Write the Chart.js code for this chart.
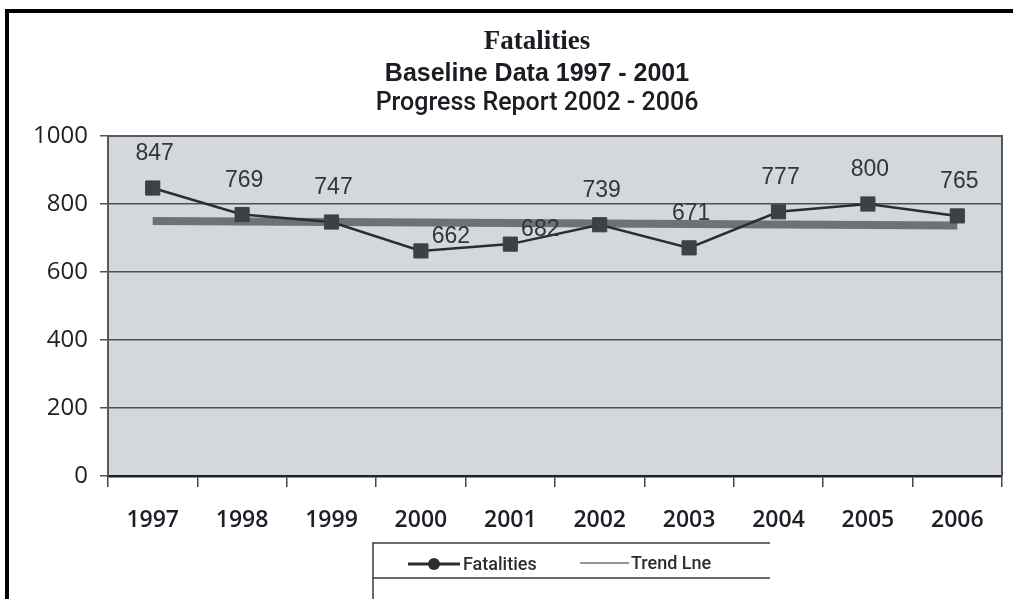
<!DOCTYPE html>
<html>
<head>
<meta charset="utf-8">
<title>Fatalities</title>
<script src="https://cdn.jsdelivr.net/npm/chart.js@4/dist/chart.umd.min.js"></script>
<style>
html,body{margin:0;padding:0;background:#fff;}
#wrap{width:1013px;height:599px;position:relative;}
</style>
</head>
<body>
<div id="wrap"><canvas id="fatalChart" width="1013" height="599"></canvas></div>
<script>

// ======================= data =======================
const years = ["1997","1998","1999","2000","2001","2002","2003","2004","2005","2006"];
const fatalities = [847,769,747,662,682,739,671,777,800,765];
// trend line only has its two end points, the rest is spanned
const trendLine = [750,null,null,null,null,null,null,null,null,737];
const yTicks = [0,200,400,600,800,1000];

const titleLines = ["Fatalities","Baseline Data 1997 - 2001","Progress Report 2002 - 2006"];
const legendNames = ["Fatalities","Trend Lne"];

// labels that sit to the right of their point instead of above it
const labelsRight = [3,4];


// ======================= plugins =======================
const frame = {
id:"frame",
beforeDraw(chart){
const ctx = chart.ctx;
const a = chart.chartArea;
ctx.save();
// plot background
ctx.fillStyle = "#d4d8dc";
ctx.fillRect(a.left,a.top,a.right-a.left,a.bottom-a.top);
// outer frame (top + left)
ctx.fillStyle = "#000";
ctx.fillRect(5,9,1008,4);
ctx.fillRect(5,9,4,590);
ctx.restore();
},
afterDatasetsDraw(chart){
const ctx = chart.ctx;
const a = chart.chartArea;
ctx.save();
ctx.strokeStyle = "#555a5e";
ctx.lineWidth = 2;
ctx.beginPath();
ctx.moveTo(a.left,a.bottom);
ctx.lineTo(a.left,a.top);
ctx.lineTo(a.right,a.top);
ctx.lineTo(a.right,a.bottom);
ctx.stroke();

// point labels
const meta = chart.getDatasetMeta(0);
ctx.font = "23px 'Liberation Sans', Arial, sans-serif";
ctx.fillStyle = "#30363b";
ctx.textAlign = "center";
ctx.textBaseline = "middle";
meta.data.forEach(function(pt,i){
if(labelsRight.includes(i)){
ctx.fillText(fatalities[i],pt.x+30,pt.y-14);
}else{
ctx.fillText(fatalities[i],pt.x+2,pt.y-34);
}
});
ctx.restore();
},
afterDraw(chart){
const ctx = chart.ctx;
ctx.save();
// titles
ctx.fillStyle = "#1c1c22";
ctx.textAlign = "center";
ctx.textBaseline = "middle";
ctx.font = "bold 27px 'Liberation Serif', 'Times New Roman', serif";
ctx.fillText(titleLines[0],537,42);
ctx.font = "bold 25px 'Liberation Sans Narrow', 'Liberation Sans', Arial, sans-serif";
ctx.fillText(titleLines[1],537,74);
ctx.font = "500 25px Roboto, 'Liberation Sans', Arial, sans-serif";
ctx.fillText(titleLines[2],537,104);

// legend box
ctx.strokeStyle = "#3a3a3a";
ctx.lineWidth = 1.5;
ctx.beginPath();
ctx.moveTo(770,543);
ctx.lineTo(373,543);
ctx.lineTo(373,599);
ctx.moveTo(373,578);
ctx.lineTo(770,578);
ctx.stroke();

// fatalities key
ctx.strokeStyle = "#2a2e33";
ctx.lineWidth = 3;
ctx.beginPath();
ctx.moveTo(408,564);
ctx.lineTo(460,564);
ctx.stroke();
ctx.fillStyle = "#2a2e33";
ctx.beginPath();
ctx.arc(434,564,6,0,Math.PI*2);
ctx.fill();

// trend key
ctx.strokeStyle = "#6f7478";
ctx.lineWidth = 1.5;
ctx.beginPath();
ctx.moveTo(580,563);
ctx.lineTo(629,563);
ctx.stroke();

ctx.fillStyle = "#2a2e33";
ctx.textAlign = "left";
ctx.font = "500 18px Roboto, 'Liberation Sans', Arial, sans-serif";
ctx.fillText(legendNames[0],463,565);
ctx.fillText(legendNames[1],631,564);
ctx.restore();
}
};


// ======================= chart =======================
const ctx = document.getElementById("fatalChart");

new Chart(ctx,{

type:"line",

data:{
labels:years,
datasets:[
{
label:legendNames[0],
data:fatalities,
borderColor:"#2a2e33",
borderWidth:2.5,
pointStyle:"rect",
pointRadius:10,
pointBackgroundColor:"#3b4147",
pointBorderColor:"#3b4147",
pointBorderWidth:1,
tension:0,
fill:false
},
{
label:legendNames[1],
data:trendLine,
borderColor:"#6d7276",
borderWidth:8,
pointRadius:0,
spanGaps:true,
fill:false
}
]
},

options:{
responsive:false,
animation:false,
layout:{
padding:{top:136,right:7,left:0,bottom:0}
},
plugins:{
legend:{display:false},
title:{display:false},
tooltip:{enabled:false}
},
scales:{
x:{
offset:true,
afterFit(scale){ scale.height = 123; },
grid:{
offset:true,
drawOnChartArea:false,
tickLength:11,
color:"#444",
lineWidth:1.5
},
border:{color:"#222",width:2.5},
ticks:{
color:"#1e1e26",
padding:20,
font:{family:"'Open Sans', sans-serif",size:23,weight:"600"}
}
},
y:{
min:0,
max:1000,
afterFit(scale){ scale.width = 108; },
afterBuildTicks(scale){
scale.ticks = yTicks.map(v => ({value:v}));
},
grid:{
color:"#4e5256",
lineWidth:1.5,
tickLength:8
},
border:{display:false},
ticks:{
color:"#1e1e26",
padding:12,
callback:(v) => String(v),
font:{family:"'Open Sans', sans-serif",size:24,weight:"500"}
}
}
}
},

plugins:[frame]

});

</script>
</body>
</html>
